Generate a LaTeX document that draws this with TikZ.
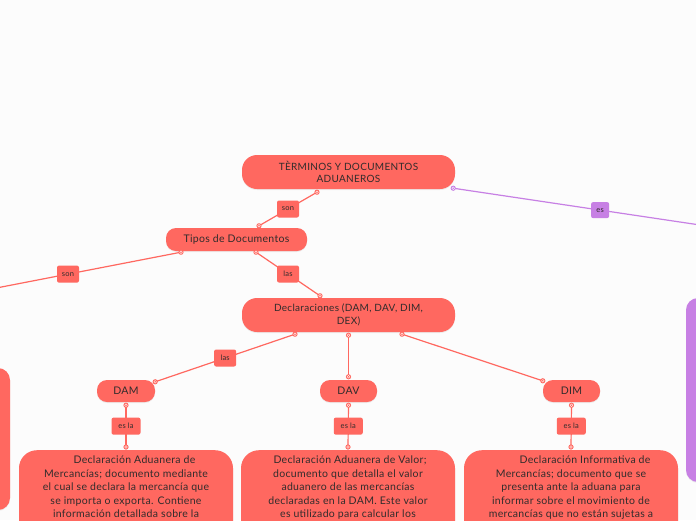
\documentclass[tikz,border=0pt]{standalone}
\usepackage{fontspec}
\setmainfont{Lato}[LetterSpace=3]
\usetikzlibrary{calc,shadows}
\definecolor{nred}{RGB}{255,104,96}
\definecolor{npurple}{RGB}{199,128,228}
\definecolor{ntext}{RGB}{50,44,44}
\definecolor{bgc}{RGB}{252,252,252}
\tikzset{
  topic/.style={draw=none, fill=nred, text=ntext, rounded corners=#1, inner sep=0pt, align=center,
     drop shadow={opacity=0.12, shadow xshift=0pt, shadow yshift=-1pt}},
  topic/.default=12pt,
  linkred/.style={draw=nred, line width=1.2pt},
  linkpur/.style={draw=npurple, line width=1.2pt},
  tag/.style={fill=nred, text=ntext, rounded corners=2pt, inner sep=0pt, minimum height=17pt,
     font=\fontsize{7.5}{9}\selectfont},
  tagpur/.style={tag, fill=npurple},
  bodytext/.style={inner sep=0pt, text=ntext, align=center, anchor=north,
     font=\fontsize{10.5}{13.4}\selectfont},
}
\newcommand\portmk[2]{\fill[#2] #1 circle (2.6pt); \fill[white] #1 circle (1.6pt); \fill[#2] #1 circle (0.9pt);}
\begin{document}
\begin{tikzpicture}[x=1pt,y=-1pt]
\useasboundingbox (0,0) rectangle (696,520);
\fill[bgc] (0,0) rectangle (696,520);
\clip (0,0) rectangle (696,520);

% nodes
\node[topic=15pt, minimum width=213pt, minimum height=34pt, font=\fontsize{10}{12.5}\selectfont]
  (root) at (348.5,172) {TÈRMINOS Y DOCUMENTOS\\ADUANEROS};
\node[topic=10pt, minimum width=141pt, minimum height=23pt, font=\fontsize{10.5}{12.5}\selectfont]
  (tipos) at (236.5,239.5) {Tipos de Documentos};
\node[topic=15pt, minimum width=213pt, minimum height=34pt, font=\fontsize{10}{12.5}\selectfont]
  (decl) at (348.5,315) {Declaraciones (DAM, DAV, DIM,\\DEX)};
\node[topic=10pt, minimum width=58pt, minimum height=22pt, font=\fontsize{10.5}{12.5}\selectfont]
  (dam) at (126,391) {DAM};
\node[topic=10pt, minimum width=57pt, minimum height=22pt, font=\fontsize{10.5}{12.5}\selectfont]
  (dav) at (348.5,391) {DAV};
\node[topic=10pt, minimum width=57pt, minimum height=22pt, font=\fontsize{10.5}{12.5}\selectfont]
  (dim) at (571.5,391) {DIM};

\node[topic=18pt, minimum width=214pt, minimum height=150pt, anchor=north] (dambox) at (126,450) {};
\node[topic=18pt, minimum width=214pt, minimum height=150pt, anchor=north] (davbox) at (348,450) {};
\node[topic=18pt, minimum width=214pt, minimum height=150pt, anchor=north] (dimbox) at (571,450) {};

\node[bodytext] (damtext) at ([yshift=-6pt]dambox.north) {\hspace*{17pt}Declaración Aduanera de\\Mercancías; documento mediante\\el cual se declara la mercancía que\\se importa o exporta. Contiene\\información detallada sobre la};
\node[bodytext] (davtext) at ([yshift=-6pt]davbox.north) {\hspace*{4pt}Declaración Aduanera de Valor;\\documento que detalla el valor\\aduanero de las mercancías\\declaradas en la DAM. Este valor\\es utilizado para calcular los};
\node[bodytext] (dimtext) at ([yshift=-6pt]dimbox.north) {\hspace*{28pt}Declaración Informativa de\\Mercancías; documento que se\\presenta ante la aduana para\\informar sobre el movimiento de\\mercancías que no están sujetas a};

\node[topic=12pt, minimum width=210pt, minimum height=142pt] (leftpanel) at (-95,439) {};
\node[topic=12pt, fill=npurple, minimum width=214pt, minimum height=184pt] (rightpanel) at (793,390) {};

% free ends
\coordinate (leftend) at (-45,296);
\coordinate (rightend) at (747,232);

% ports
\coordinate (p1) at ([xshift=-31.5pt,yshift=-3pt]root.south);
\coordinate (p2) at ([xshift=22.5pt,yshift=2pt]tipos.north);
\coordinate (p3) at ([xshift=-55.5pt,yshift=-1pt]tipos.south);
\coordinate (p4) at ([xshift=19.5pt,yshift=-1pt]tipos.south);
\coordinate (p5) at ([xshift=-28.5pt,yshift=2pt]decl.north);
\coordinate (p6) at ([xshift=-53.5pt,yshift=-2pt]decl.south);
\coordinate (p7) at ([yshift=-3pt]decl.south);
\coordinate (p8) at ([xshift=53.5pt,yshift=-2pt]decl.south);
\coordinate (p9) at ([yshift=-2pt]dam.north east);
\coordinate (p10) at ([yshift=3pt]dav.north);
\coordinate (p11) at ([yshift=-1pt]dim.north west);
\coordinate (p12) at ([yshift=-3pt]dam.south);
\coordinate (p13) at ([yshift=3pt]dambox.north);
\coordinate (p14) at ([yshift=-3pt]dav.south);
\coordinate (p15) at ([yshift=3pt]davbox.north);
\coordinate (p16) at ([yshift=-3pt]dim.south);
\coordinate (p17) at ([yshift=3pt]dimbox.north);
\coordinate (p18) at ([xshift=-2pt,yshift=1pt]root.south east);

% connectors
\draw[linkred] (p1) -- node[tag, minimum width=22pt] (t1) {son} (p2);
\draw[linkred] (p3) -- node[tag, minimum width=22pt] (t2) {son} (leftend);
\draw[linkred] (p4) -- node[tag, minimum width=22pt] (t3) {las} (p5);
\draw[linkred] (p6) -- node[tag, minimum width=22pt] (t4) {las} (p9);
\draw[linkred] (p7) -- (p10);
\draw[linkred] (p8) -- (p11);
\draw[linkred] (p12) -- node[tag, minimum width=29pt] (t5) {es la} (p13);
\draw[linkred] (p14) -- node[tag, minimum width=29pt] (t6) {es la} (p15);
\draw[linkred] (p16) -- node[tag, minimum width=29pt] (t7) {es la} (p17);
\draw[linkpur] (p18) -- node[tagpur, minimum width=18pt, minimum height=16pt] (t8) {es} (rightend);

\foreach \p in {p1,p2,p3,p4,p5,p6,p7,p8,p9,p10,p11,p12,p13,p14,p15,p16,p17} {\portmk{(\p)}{nred}}
\portmk{(p18)}{npurple}
\end{tikzpicture}
\end{document}
